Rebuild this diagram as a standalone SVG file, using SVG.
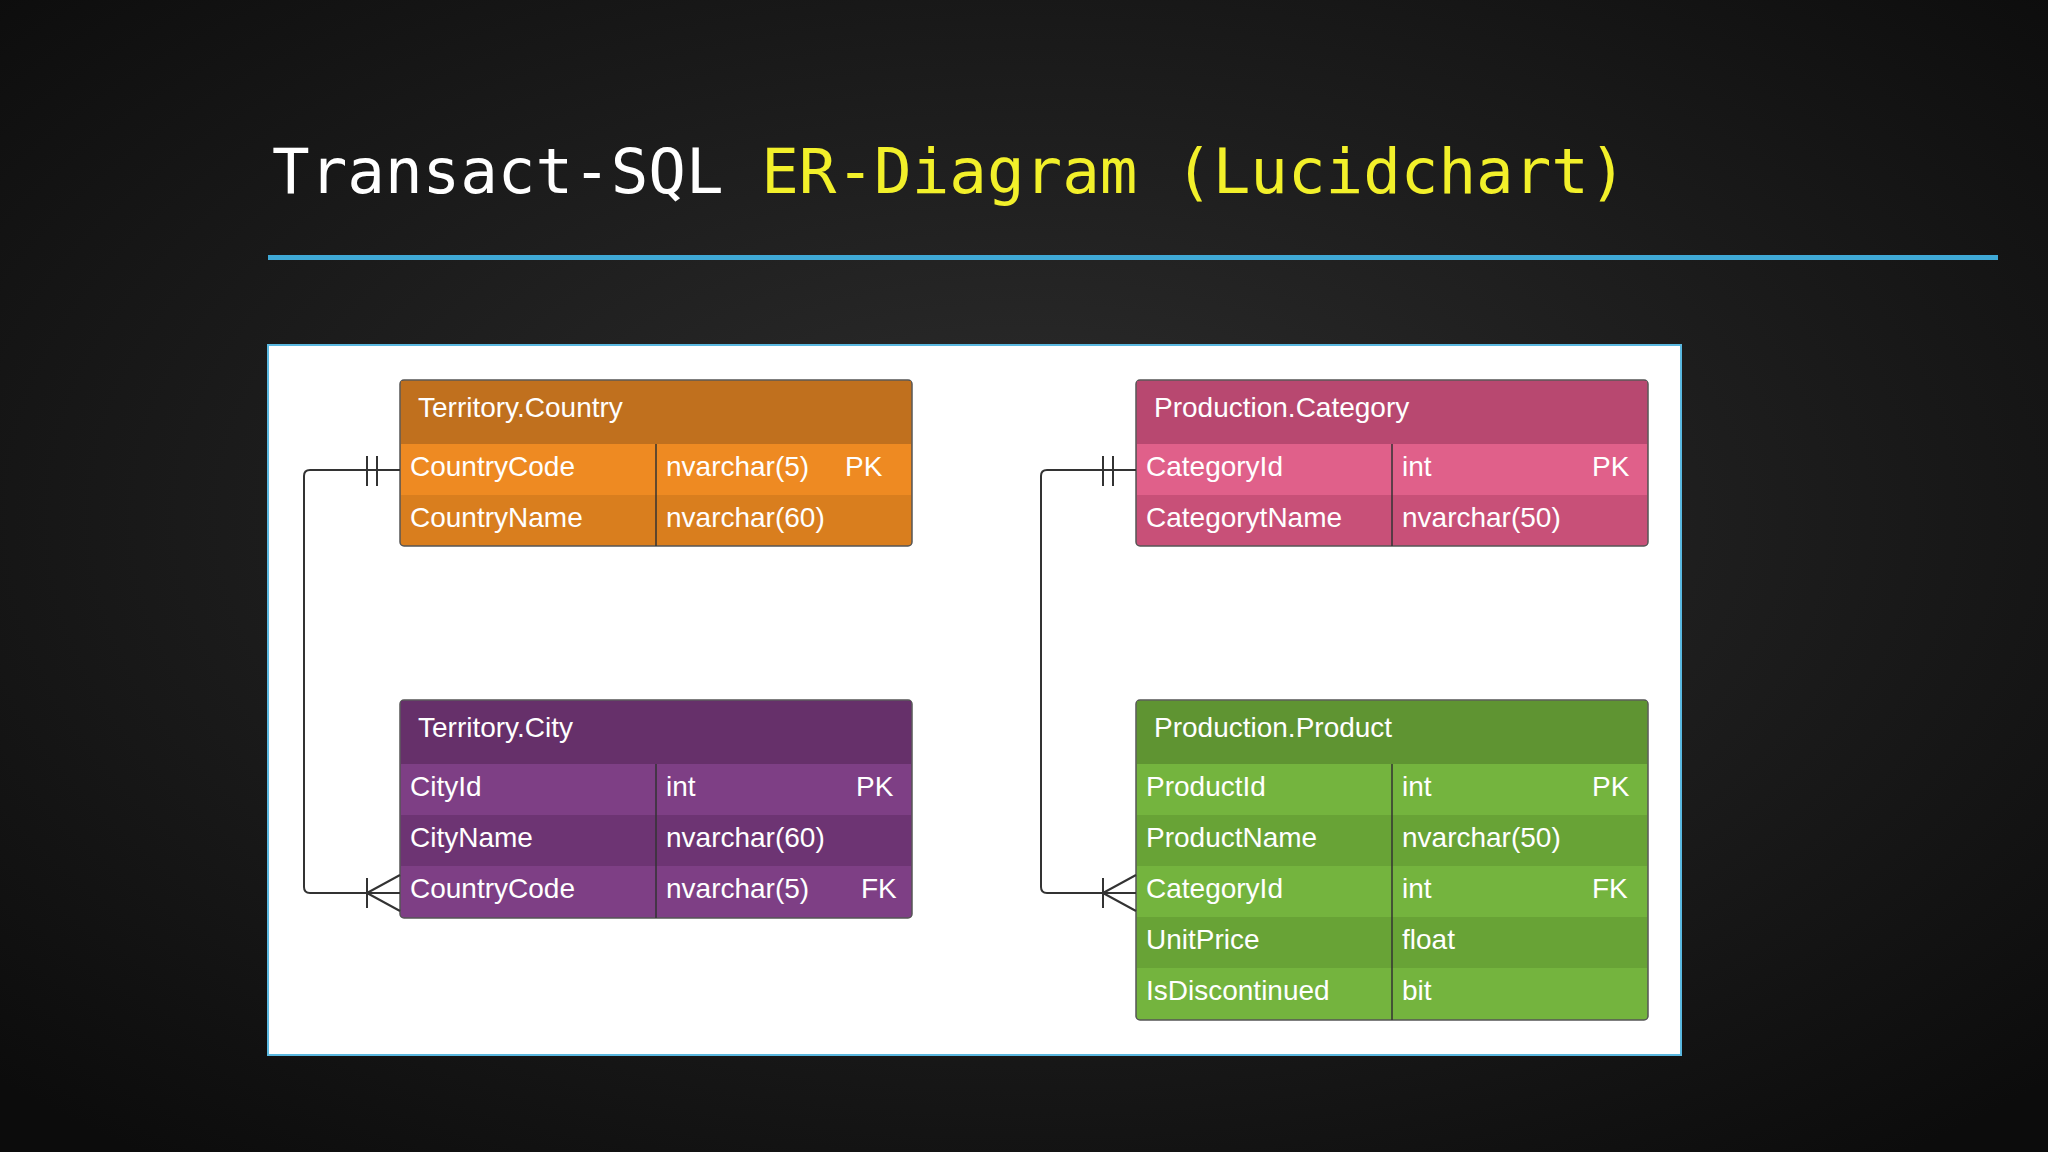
<svg xmlns="http://www.w3.org/2000/svg" width="2048" height="1152" viewBox="0 0 2048 1152">
<defs>
<radialGradient id="bg" cx="50%" cy="45%" r="70%"><stop offset="0" stop-color="#2e2e2e"/><stop offset="1" stop-color="#0c0c0c"/></radialGradient>
<style>
text{font-family:"Liberation Sans",Arial,sans-serif;font-size:28px;fill:#fff}
.t{font-family:"DejaVu Sans Mono","Liberation Mono",monospace;font-size:62.5px}
.ln{fill:none;stroke:#333;stroke-width:2}
.div{stroke:#333;stroke-width:1.5}
</style>
</defs>
<rect width="2048" height="1152" fill="url(#bg)"/>
<text class="t" x="272" y="193" style="fill:#fff">Transact-SQL <tspan style="fill:#f2f02a">ER-Diagram (Lucidchart)</tspan></text>
<rect x="268" y="255" width="1730" height="5" fill="#3fa9d6"/>
<rect x="268" y="345" width="1413" height="710" fill="#fff" stroke="#5ab8e0" stroke-width="2"/>
<g id="country">
<rect x="400" y="380" width="512" height="166" rx="4" fill="#d97e1e" stroke="#555" stroke-width="1.5"/>
<rect x="401" y="381" width="510" height="63" fill="#c0701e"/>
<rect x="401" y="444" width="510" height="51" fill="#ee8a22"/>
<text x="418" y="417">Territory.Country</text>
<line class="div" x1="656" y1="444" x2="656" y2="546"/>
<text x="410" y="476">CountryCode</text><text x="666" y="476">nvarchar(5)</text><text x="845" y="476">PK</text>
<text x="410" y="527">CountryName</text><text x="666" y="527">nvarchar(60)</text>
</g>
<g id="city">
<rect x="400" y="700" width="512" height="218" rx="4" fill="#7e3f85" stroke="#555" stroke-width="1.5"/>
<rect x="401" y="701" width="510" height="63" fill="#66306a"/>
<rect x="401" y="815" width="510" height="51" fill="#6d3473"/>
<text x="418" y="737">Territory.City</text>
<line class="div" x1="656" y1="764" x2="656" y2="918"/>
<text x="410" y="796">CityId</text><text x="666" y="796">int</text><text x="856" y="796">PK</text>
<text x="410" y="847">CityName</text><text x="666" y="847">nvarchar(60)</text>
<text x="410" y="898">CountryCode</text><text x="666" y="898">nvarchar(5)</text><text x="861" y="898">FK</text>
</g>
<g id="category">
<rect x="1136" y="380" width="512" height="166" rx="4" fill="#c85078" stroke="#555" stroke-width="1.5"/>
<rect x="1137" y="381" width="510" height="63" fill="#b84870"/>
<rect x="1137" y="444" width="510" height="51" fill="#e0608a"/>
<text x="1154" y="417">Production.Category</text>
<line class="div" x1="1392" y1="444" x2="1392" y2="546"/>
<text x="1146" y="476">CategoryId</text><text x="1402" y="476">int</text><text x="1592" y="476">PK</text>
<text x="1146" y="527">CategorytName</text><text x="1402" y="527">nvarchar(50)</text>
</g>
<g id="product">
<rect x="1136" y="700" width="512" height="320" rx="4" fill="#74b43e" stroke="#555" stroke-width="1.5"/>
<rect x="1137" y="701" width="510" height="63" fill="#5f9432"/>
<rect x="1137" y="815" width="510" height="51" fill="#68a336"/>
<rect x="1137" y="917" width="510" height="51" fill="#68a336"/>
<text x="1154" y="737">Production.Product</text>
<line class="div" x1="1392" y1="764" x2="1392" y2="1020"/>
<text x="1146" y="796">ProductId</text><text x="1402" y="796">int</text><text x="1592" y="796">PK</text>
<text x="1146" y="847">ProductName</text><text x="1402" y="847">nvarchar(50)</text>
<text x="1146" y="898">CategoryId</text><text x="1402" y="898">int</text><text x="1592" y="898">FK</text>
<text x="1146" y="949">UnitPrice</text><text x="1402" y="949">float</text>
<text x="1146" y="1000">IsDiscontinued</text><text x="1402" y="1000">bit</text>
</g>
<g id="connectors">
<path class="ln" d="M400 470 H310 Q304 470 304 476 V887 Q304 893 310 893 H400"/>
<path class="ln" d="M367 456 V486 M377 456 V486"/>
<path class="ln" d="M367 878 V908 M367 893 L400 875 M367 893 L400 911"/>
<path class="ln" d="M1136 470 H1047 Q1041 470 1041 476 V887 Q1041 893 1047 893 H1136"/>
<path class="ln" d="M1103 456 V486 M1113 456 V486"/>
<path class="ln" d="M1103 878 V908 M1103 893 L1136 875 M1103 893 L1136 911"/>
</g>
</svg>
